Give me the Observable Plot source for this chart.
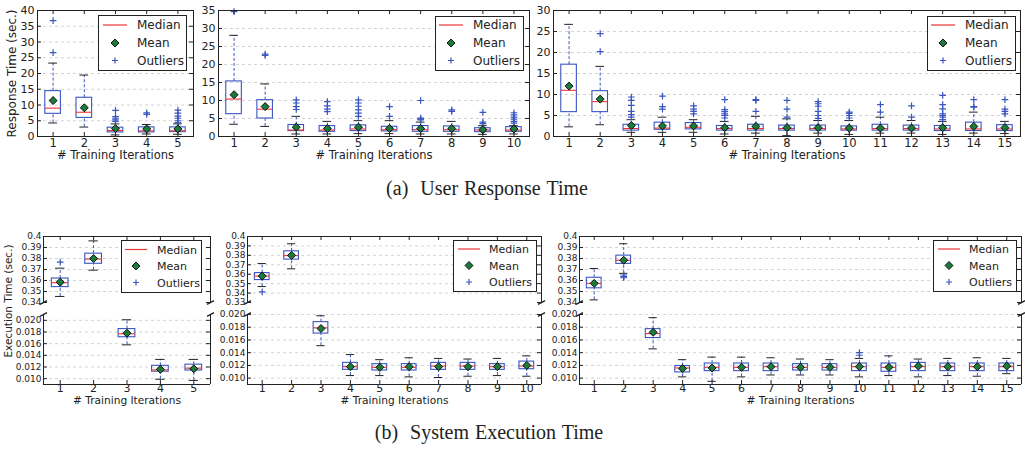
<!DOCTYPE html>
<html><head><meta charset="utf-8">
<script src="https://cdn.jsdelivr.net/npm/d3@7"></script>
<script src="https://cdn.jsdelivr.net/npm/@observablehq/plot@0.6"></script>
<style>
body{margin:0;background:#fff;}
#root{position:relative;width:1025px;height:449px;overflow:hidden;font-family:"DejaVu Sans",sans-serif;color:#222;}
#root > svg{position:absolute;}
.legend{position:absolute;border:1px solid #222;background:#fff;box-sizing:border-box;}
.legend svg{position:absolute;left:-1px;top:-1px;}
.legend .lbl{position:absolute;transform:translateY(-50%);white-space:nowrap;line-height:1;}
.caption{position:absolute;font-family:"Liberation Serif",serif;font-size:20px;word-spacing:1px;white-space:nowrap;transform:translate(-50%,-50%);}
.vlabel{position:absolute;white-space:nowrap;transform:translate(-50%,-50%) rotate(-90deg);}
</style></head><body><div id="root"></div><script>
// ---------- data ----------
const iters5 = [1,2,3,4,5];
const iters10 = [1,2,3,4,5,6,7,8,9,10];
const iters15 = [1,2,3,4,5,6,7,8,9,10,11,12,13,14,15];

// each row: [low whisker, Q1, median, Q3, high whisker, mean]
const resp5 = [
  [4.3, 7.2, 9.0, 14.4, 23.3, 11.4],
  [3.0, 5.9, 7.7, 12.3, 19.5, 9.1],
  [0.5, 1.3, 1.9, 2.8, 4.0, 2.5],
  [0.8, 1.3, 1.8, 2.9, 3.8, 2.4],
  [0.7, 1.4, 1.8, 2.9, 4.0, 2.4]
];
const resp5Out = [[36.8, 26.6], [], [8.3, 6.3, 5.8, 5.3, 4.8], [7.5, 7.0], [8.4, 7.4, 6.5, 5.8, 5.0, 4.4]];

const resp10 = [
  [3.4, 6.2, 10.4, 15.3, 28.1, 11.6],
  [2.8, 5.0, 7.6, 10.1, 14.6, 8.3],
  [0.7, 1.5, 1.8, 3.2, 5.6, 2.6],
  [0.7, 1.3, 1.8, 2.9, 4.2, 2.2],
  [0.8, 1.5, 2.1, 3.1, 4.4, 2.6],
  [0.8, 1.4, 1.9, 2.7, 4.4, 2.2],
  [0.7, 1.3, 1.9, 2.9, 4.0, 2.2],
  [0.7, 1.3, 1.9, 2.8, 4.2, 2.2],
  [0.6, 1.2, 1.8, 2.3, 3.0, 1.9],
  [0.7, 1.3, 1.8, 2.6, 3.0, 2.1]
];
const resp10Out = [[34.7], [22.5, 22.9], [10.2, 9.3, 8.3, 7.5], [9.7, 8.5, 7.6, 6.9],
  [10.2, 9.3, 8.4, 7.4, 6.5, 5.6], [8.3, 5.6], [10.0, 5.1, 4.8, 4.6], [7.4, 7.0],
  [6.7, 4.0, 3.6], [6.6, 6.0, 5.4, 4.8, 4.2, 3.7]];

const resp15 = [
  [2.3, 5.8, 11.0, 17.1, 26.7, 12.0],
  [2.8, 5.8, 8.3, 10.8, 16.7, 8.9],
  [1.0, 1.4, 1.9, 2.8, 4.0, 2.6],
  [1.0, 1.6, 2.0, 3.3, 4.6, 2.5],
  [1.0, 1.7, 2.2, 3.2, 4.0, 2.5],
  [0.6, 1.4, 1.9, 2.5, 3.6, 2.1],
  [0.8, 1.4, 1.9, 2.8, 4.8, 2.4],
  [0.2, 1.4, 1.9, 2.6, 4.2, 2.1],
  [0.8, 1.4, 1.9, 2.6, 3.8, 2.1],
  [0.5, 1.4, 1.8, 2.4, 3.8, 2.0],
  [0.8, 1.4, 1.9, 2.8, 4.6, 2.0],
  [0.8, 1.4, 1.9, 2.6, 3.8, 2.0],
  [0.5, 1.3, 1.8, 2.5, 3.6, 2.1],
  [0.8, 1.3, 1.8, 3.3, 5.8, 2.4],
  [0.7, 1.3, 1.8, 2.7, 3.6, 2.1]
];
const resp15Out = [[], [24.5, 20.2], [9.4, 8.6, 7.4, 6.0, 5.2, 4.6], [9.6, 7.1, 6.5],
  [7.3, 6.5, 6.0, 5.4], [8.8, 6.4, 5.9, 5.4, 5.0, 4.4], [8.8, 8.6, 6.0], [8.6, 6.5, 4.6],
  [8.3, 7.8, 7.2, 6.0, 5.0, 4.3], [5.8, 5.5, 5.0, 4.4], [7.6, 5.8], [7.3, 4.6],
  [9.8, 7.6, 6.6, 5.4, 5.0, 4.6, 4.0], [8.8, 7.1, 7.0], [8.8, 6.5, 6.0, 5.4]];

const exec5 = [
  [0.3455, 0.3540, 0.3580, 0.3618, 0.3712, 0.3585],
  [0.3694, 0.3752, 0.3795, 0.3844, 0.3960, 0.3800],
  [0.0158, 0.0171, 0.0177, 0.0185, 0.0201, 0.0178],
  [0.0099, 0.0112, 0.0115, 0.0122, 0.0133, 0.0116],
  [0.0097, 0.0114, 0.0118, 0.0124, 0.0133, 0.0117]
];
const exec5Out = [[0.3767], [], [], [], []];

const exec10 = [
  [0.3469, 0.3538, 0.3580, 0.3612, 0.3713, 0.3580],
  [0.3657, 0.3755, 0.3797, 0.3843, 0.3923, 0.3800],
  [0.0151, 0.0170, 0.0179, 0.0188, 0.0198, 0.0178],
  [0.0104, 0.0113, 0.0118, 0.0124, 0.0137, 0.0118],
  [0.0104, 0.0112, 0.0117, 0.0122, 0.0129, 0.0117],
  [0.0102, 0.0112, 0.0117, 0.0122, 0.0132, 0.0118],
  [0.0101, 0.0113, 0.0119, 0.0124, 0.0131, 0.0118],
  [0.0103, 0.0113, 0.0119, 0.0124, 0.0130, 0.0118],
  [0.0104, 0.0113, 0.0118, 0.0122, 0.0131, 0.0118],
  [0.0103, 0.0114, 0.0119, 0.0126, 0.0135, 0.0120]
];
const exec10Out = [[0.3413], [], [], [], [], [], [], [], [], []];

const exec15 = [
  [0.3424, 0.3529, 0.3574, 0.3625, 0.3709, 0.3574],
  [0.3665, 0.3751, 0.3784, 0.3826, 0.3934, 0.3784],
  [0.0146, 0.0163, 0.0170, 0.0177, 0.0195, 0.0172],
  [0.0102, 0.0109, 0.0116, 0.0119, 0.0129, 0.0115],
  [0.0095, 0.0111, 0.0117, 0.0123, 0.0133, 0.0116],
  [0.0102, 0.0111, 0.0117, 0.0123, 0.0133, 0.0117],
  [0.0105, 0.0111, 0.0118, 0.0123, 0.0132, 0.0118],
  [0.0105, 0.0112, 0.0117, 0.0122, 0.0130, 0.0117],
  [0.0105, 0.0112, 0.0117, 0.0122, 0.0129, 0.0117],
  [0.0102, 0.0111, 0.0118, 0.0123, 0.0131, 0.0118],
  [0.0104, 0.0110, 0.0117, 0.0123, 0.0135, 0.0117],
  [0.0102, 0.0111, 0.0118, 0.0124, 0.0130, 0.0119],
  [0.0104, 0.0111, 0.0118, 0.0123, 0.0131, 0.0118],
  [0.0103, 0.0111, 0.0118, 0.0123, 0.0132, 0.0118],
  [0.0107, 0.0111, 0.0118, 0.0123, 0.0131, 0.0119]
];
const exec15Out = [[], [0.3650, 0.3635, 0.3625], [], [], [], [], [], [], [], [0.0140, 0.0136], [], [], [], [], []];

const respTicks40 = [0,5,10,15,20,25,30,35,40];
const respTicks35 = [0,5,10,15,20,25,30,35];
const respTicks30 = [0,5,10,15,20,25,30];
const execTopTicks34 = [0.34,0.35,0.36,0.37,0.38,0.39,0.40];
const execTopTicks33 = [0.33,0.34,0.35,0.36,0.37,0.38,0.39,0.40];
const execBotTicks = [0.010,0.012,0.014,0.016,0.018,0.020];

const legendLabels = ["Median", "Mean", "Outliers"];
const xLabel = "# Training Iterations";

// ---------- style ----------
const BLUE = "#3a55c0", RED = "#ee3535", GREEN = "#1c7a3c", INK = "#222", GRID = "#d4d4d4";
const root = document.getElementById("root");

function rowsOf(stats){ return stats.map((d,i)=>({x:i+1, lo:d[0], q1:d[1], med:d[2], q3:d[3], hi:d[4], mean:d[5]})); }
function outOf(outs){ return outs.flatMap((o,i)=>o.map(v=>({x:i+1, y:v}))); }

function boxMarks(stats, outs, clip){
  const rows = rowsOf(stats), pts = outOf(outs);
  return [
    Plot.ruleX(rows, {x:"x", y1:"q3", y2:"hi", stroke:BLUE, strokeDasharray:"3,2", clip}),
    Plot.ruleX(rows, {x:"x", y1:"lo", y2:"q1", stroke:BLUE, strokeDasharray:"3,2", clip}),
    Plot.ruleY(rows, {y:"hi", x1:d=>d.x-0.14, x2:d=>d.x+0.14, stroke:INK, clip}),
    Plot.ruleY(rows, {y:"lo", x1:d=>d.x-0.14, x2:d=>d.x+0.14, stroke:INK, clip}),
    Plot.rect(rows, {x1:d=>d.x-0.25, x2:d=>d.x+0.25, y1:"q1", y2:"q3", fill:"none", stroke:BLUE, strokeWidth:1.1, clip}),
    Plot.ruleY(rows, {y:"med", x1:d=>d.x-0.25, x2:d=>d.x+0.25, stroke:RED, strokeWidth:1.1, clip}),
    Plot.dot(pts, {x:"x", y:"y", symbol:"plus", stroke:BLUE, r:2.3, strokeWidth:1.2, clip}),
    Plot.dot(rows, {x:"x", y:"mean", symbol:"diamond2", fill:GREEN, stroke:"#000", r:3.6, strokeWidth:0.9, clip})
  ];
}

function frameTicks(xt, yt, W, H, sides, len=4){
  const m = [];
  if (sides.includes("b")) m.push(Plot.tickX(xt, {x:d=>d, insetTop:H-len, stroke:INK}));
  if (sides.includes("t")) m.push(Plot.tickX(xt, {x:d=>d, insetBottom:H-len, stroke:INK}));
  m.push(Plot.tickY(yt, {y:d=>d, insetRight:W-len, stroke:INK}));
  m.push(Plot.tickY(yt, {y:d=>d, insetLeft:W-len, stroke:INK}));
  return m;
}

const baseStyle = {fontFamily:"DejaVu Sans", fontSize:"11px", color:INK, background:"transparent", overflow:"visible"};

function place(svg, left, top){ svg.style.left = left+"px"; svg.style.top = top+"px"; root.appendChild(svg); }

function legend(left, top, w, h, fs, rowY, lineX, markX, textX){
  const div = document.createElement("div");
  div.className = "legend";
  Object.assign(div.style, {left:left+"px", top:top+"px", width:w+"px", height:h+"px", fontSize:fs+"px"});
  const [y0,y1,y2] = rowY, c = markX;
  div.innerHTML =
    `<svg width="${w}" height="${h}">
      <line x1="${lineX[0]}" x2="${lineX[1]}" y1="${y0}" y2="${y0}" stroke="${RED}" stroke-width="1.2"/>
      <path d="M${c},${y1-4}L${c+4},${y1}L${c},${y1+4}L${c-4},${y1}Z" fill="${GREEN}" stroke="#000" stroke-width="0.9"/>
      <path d="M${c-3},${y2}h6M${c},${y2-3}v6" stroke="${BLUE}" stroke-width="1.2"/>
    </svg>` +
    legendLabels.map((t,i)=>`<span class="lbl" style="left:${textX-1}px;top:${rowY[i]-1}px">${t}</span>`).join("");
  root.appendChild(div);
}

// ---------- top row: response time ----------
function respPanel({left, width, ml, mr, stats, outs, iters, yt, ylab}){
  const H = 170, mt = 10, mb = 34, n = iters.length;
  const W = width-ml-mr, FH = H-mt-mb;
  const marks = [
    Plot.gridY(yt.slice(1,-1), {stroke:GRID, strokeOpacity:1, strokeDasharray:"3,3"}),
    ...boxMarks(stats, outs, false),
    Plot.frame({stroke:INK}),
    ...frameTicks(iters, yt, W, FH, "tb"),
    Plot.axisX(iters, {tickSize:0, tickPadding:2, fontSize:11.5, label:null}),
    Plot.axisY(yt, {tickSize:0, tickPadding:3, fontSize:11, label:null}),
    Plot.text([xLabel], {frameAnchor:"bottom", textAnchor:"middle", dy:22.5, fontSize:11.5, fill:INK})
  ];
  if (ylab) marks.push(Plot.text([ylab], {frameAnchor:"left", textAnchor:"middle", dx:-25, rotate:-90, fontSize:12, fill:INK}));
  const svg = Plot.plot({
    width, height:H, marginLeft:ml, marginRight:mr, marginTop:mt, marginBottom:mb,
    style:baseStyle,
    x:{type:"linear", domain:[0.5, n+0.5]},
    y:{type:"linear", domain:[yt[0], yt[yt.length-1]]},
    marks
  });
  place(svg, left, 0);
}

respPanel({left:0, width:200, ml:37, mr:7, stats:resp5, outs:resp5Out, iters:iters5, yt:respTicks40, ylab:"Response Time (sec.)"});
respPanel({left:200, width:335, ml:18, mr:6, stats:resp10, outs:resp10Out, iters:iters10, yt:respTicks35});
respPanel({left:535, width:490, ml:18, mr:5, stats:resp15, outs:resp15Out, iters:iters15, yt:respTicks30});

legend(98, 15, 89, 56, 12, [10, 28, 45.5], [5, 29], 17, 39);
legend(435, 16, 89, 55, 12, [9, 27, 44.5], [4, 28], 16, 38);
legend(927, 16, 89, 55, 12, [9, 27, 44.5], [4, 28], 16, 38);

// ---------- bottom row: execution time (broken axis) ----------
const brk = {draw(ctx){ ctx.moveTo(-3.5, 1.8); ctx.lineTo(3.5, -1.8); }};

function execPanel({left, width, ml, mr, stats, outs, iters, ytTop, ytBot, botMax}){
  const n = iters.length, W = width-ml-mr;
  const xd = [0.5, n+0.5];
  // upper part
  {
    const H = 79, mt = 10, mb = 3, FH = H-mt-mb;
    const dom = [ytTop[0], ytTop[ytTop.length-1]];
    const svg = Plot.plot({
      width, height:H, marginLeft:ml, marginRight:mr, marginTop:mt, marginBottom:mb,
      style:baseStyle,
      x:{type:"linear", domain:xd, axis:null},
      y:{type:"linear", domain:dom},
      marks:[
        Plot.gridY(ytTop.slice(1,-1), {stroke:GRID, strokeOpacity:1, strokeDasharray:"3,3"}),
        ...boxMarks(stats, outs, true),
        Plot.ruleY([dom[1]], {stroke:INK}),
        Plot.ruleX(xd, {stroke:INK}),
        ...frameTicks(iters, ytTop, W, FH, "t"),
        Plot.axisY(ytTop, {tickSize:0, tickPadding:2, fontSize:9, label:null, tickFormat:d=>String(+d.toFixed(2))}),
        Plot.dot([0], {frameAnchor:"bottom-left", symbol:brk, fill:"none", stroke:INK}),
        Plot.dot([0], {frameAnchor:"bottom-right", symbol:brk, fill:"none", stroke:INK})
      ]
    });
    place(svg, left, 226);
  }
  // lower part
  {
    const H = 110, mt = 12, mb = 28, FH = H-mt-mb;
    const dom = [0.009, botMax];
    const svg = Plot.plot({
      width, height:H, marginLeft:ml, marginRight:mr, marginTop:mt, marginBottom:mb,
      style:baseStyle,
      x:{type:"linear", domain:xd},
      y:{type:"linear", domain:dom},
      marks:[
        Plot.gridY(ytBot, {stroke:GRID, strokeOpacity:1, strokeDasharray:"3,3"}),
        ...boxMarks(stats, outs, true),
        Plot.ruleY([dom[0]], {stroke:INK}),
        Plot.ruleX(xd, {stroke:INK}),
        ...frameTicks(iters, ytBot, W, FH, "b"),
        Plot.axisX(iters, {tickSize:0, tickPadding:0, fontSize:11, label:null}),
        Plot.axisY(ytBot, {tickSize:0, tickPadding:2, fontSize:9, label:null, tickFormat:d=>d.toFixed(3)}),
        Plot.text([xLabel], {frameAnchor:"bottom", textAnchor:"middle", dy:19.5, fontSize:10.6, fill:INK}),
        Plot.dot([0], {frameAnchor:"top-left", symbol:brk, fill:"none", stroke:INK}),
        Plot.dot([0], {frameAnchor:"top-right", symbol:brk, fill:"none", stroke:INK})
      ]
    });
    place(svg, left, 302);
  }
}

execPanel({left:0, width:215, ml:43, mr:5, stats:exec5, outs:exec5Out, iters:iters5, ytTop:execTopTicks34, ytBot:execBotTicks, botMax:0.021});
execPanel({left:215, width:330, ml:32, mr:4, stats:exec10, outs:exec10Out, iters:iters10, ytTop:execTopTicks33, ytBot:execBotTicks, botMax:0.020});
execPanel({left:545, width:480, ml:34, mr:4, stats:exec15, outs:exec15Out, iters:iters15, ytTop:execTopTicks34, ytBot:execBotTicks, botMax:0.020});

legend(121, 240, 81, 53, 11, [9.5, 26, 42.5], [4, 26], 15, 36);
legend(453, 240, 84, 52, 11, [9, 25.5, 42], [5, 27], 16, 36);
legend(933, 240, 84, 52, 11, [9, 25.5, 42], [5, 27], 16, 36);

// y label spanning both parts of the broken axis
const vl = document.createElement("div");
vl.className = "vlabel";
Object.assign(vl.style, {left:"7.5px", top:"301px", fontSize:"10.5px"});
vl.textContent = "Execution Time (sec.)";
root.appendChild(vl);

// captions
function caption(x, y, tag, text){
  const d = document.createElement("div");
  d.className = "caption";
  Object.assign(d.style, {left:x+"px", top:y+"px"});
  d.innerHTML = `${tag}&nbsp;&nbsp;${text}`;
  root.appendChild(d);
}
caption(487, 188, "(a)", "User Response Time");
caption(489, 432, "(b)", "System Execution Time");
</script></body></html>
